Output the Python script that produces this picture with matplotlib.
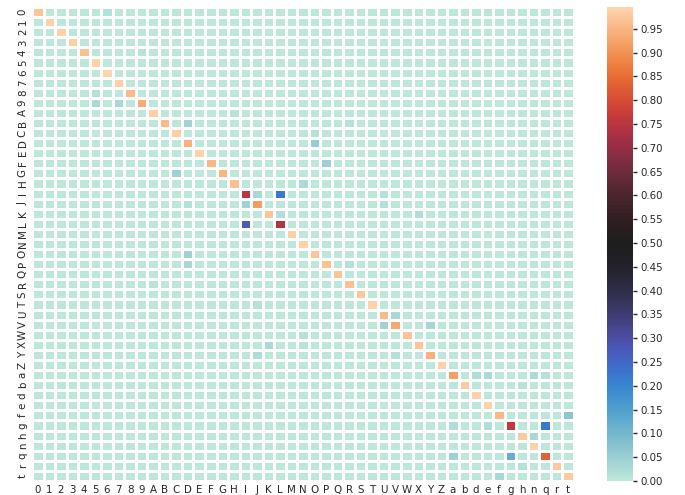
import numpy as np
import matplotlib
matplotlib.use("Agg")
import matplotlib.pyplot as plt
import seaborn as sns
from matplotlib.ticker import FormatStrFormatter

labels = list("0123456789ABCDEFGHIJKLMNOPQRSTUVWXYZabdefghnqrt")

diag_values = [0.975, 0.99, 0.992, 0.985, 0.965, 0.99, 0.996, 0.985, 0.96, 0.935,
               0.985, 0.96, 0.985, 0.945, 0.99, 0.955, 0.95, 0.965, 0.75, 0.915,
               0.97, 0.74, 0.985, 0.99, 0.975, 0.965, 0.97, 0.965, 0.975, 0.99,
               0.96, 0.93, 0.97, 0.97, 0.945, 0.99, 0.92, 0.98, 0.99, 0.99,
               0.955, 0.76, 0.98, 0.99, 0.835, 0.98, 0.98]

off_rows = ["0", "4", "8", "9", "9", "A", "B", "B", "C", "D", "F", "G", "H",
            "I", "I", "I", "J", "J", "J", "K", "K", "L", "O", "P", "P", "R", "T",
            "U", "V", "V", "W", "X", "X", "Y", "Y", "a", "a", "a", "a", "b",
            "f", "g", "g", "g", "h", "q", "q", "r", "t"]
off_cols = ["6", "9", "5", "5", "7", "H", "D", "R", "O", "O", "P", "C", "N",
            "J", "L", "U", "I", "D", "U", "L", "X", "I", "D", "D", "R", "A", "J",
            "V", "U", "Y", "N", "K", "N", "J", "V", "d", "e", "n", "q", "h",
            "t", "q", "a", "e", "n", "g", "a", "h", "f"]
off_values = [0.015, 0.01, 0.015, 0.025, 0.03, 0.01, 0.04, 0.012, 0.015, 0.055, 0.045, 0.045, 0.025,
              0.03, 0.22, 0.015, 0.04, 0.012, 0.015, 0.02, 0.02, 0.27, 0.045, 0.03, 0.012, 0.01, 0.015,
              0.03, 0.04, 0.035, 0.015, 0.025, 0.01, 0.02, 0.012, 0.02, 0.025, 0.025, 0.015, 0.01,
              0.07, 0.22, 0.02, 0.02, 0.03, 0.12, 0.045, 0.015, 0.03]

n = len(labels)
idx = {c: i for i, c in enumerate(labels)}
mat = np.zeros((n, n))
for i, v in enumerate(diag_values):
    mat[i, i] = v
for r, c, v in zip(off_rows, off_cols, off_values):
    mat[idx[r], idx[c]] = v

W, H = 685, 495
fig = plt.figure(figsize=(W / 100, H / 100), dpi=100)
ax = fig.add_axes([32 / W, (H - 481) / H, 542 / W, 474 / H])
cax = fig.add_axes([607 / W, (H - 481) / H, 26 / W, 474 / H])

sns.heatmap(mat, ax=ax, cbar_ax=cax, cmap="icefire", linewidths=0.8, linecolor="white",
            xticklabels=labels, yticklabels=labels)

txt = "#262626"
ax.tick_params(axis="both", length=0, labelsize=7.4, labelcolor=txt, pad=3)
ax.set_xticklabels(labels, rotation=0)
ax.set_yticklabels(labels, rotation=90, va="center")

cax.set_yticks(np.arange(0, 0.951, 0.05))
cax.yaxis.set_major_formatter(FormatStrFormatter("%.2f"))
cax.tick_params(axis="y", length=3, width=1, color=txt, labelsize=7.4, labelcolor=txt, pad=2)
for s in cax.spines.values():
    s.set_visible(False)

fig.savefig("out.png", dpi=100)
